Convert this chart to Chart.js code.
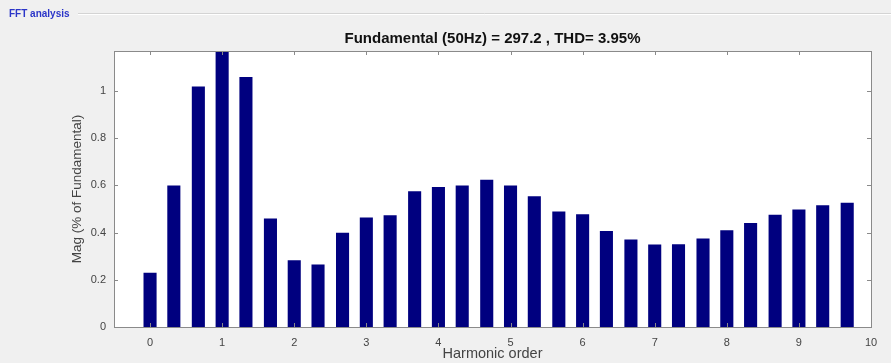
<!DOCTYPE html>
<html>
<head>
<meta charset="utf-8">
<script src="https://cdn.jsdelivr.net/npm/chart.js@4"></script>
<style>
  html, body { margin: 0; padding: 0; background: #f0f0f0; }
  #wrap { width: 891px; height: 363px; position: relative; }
</style>
</head>
<body>
<div id="wrap"><canvas id="c" width="891" height="363"></canvas></div>
<script>
// ---- data ----
const panelLabel = "FFT analysis";
const chartTitle = "Fundamental (50Hz) = 297.2 , THD= 3.95%";
const xAxisTitle = "Harmonic order";
const yAxisTitle = "Mag (% of Fundamental)";

const harmonicOrder = [0, 0.33, 0.67, 1, 1.33, 1.67, 2, 2.33, 2.67, 3,
                       3.33, 3.67, 4, 4.33, 4.67, 5, 5.33, 5.67, 6, 6.33,
                       6.67, 7, 7.33, 7.67, 8, 8.33, 8.67, 9, 9.33, 9.67];
const magnitude = [0.23, 0.60, 1.02, 1.17, 1.06, 0.46, 0.283, 0.265, 0.40, 0.464,
                   0.474, 0.575, 0.593, 0.60, 0.624, 0.60, 0.554, 0.49, 0.478, 0.407,
                   0.371, 0.35, 0.351, 0.375, 0.41, 0.441, 0.476, 0.498, 0.516, 0.527];
const xTicks = [0, 1, 2, 3, 4, 5, 6, 7, 8, 9, 10];
const yTicks = [0, 0.2, 0.4, 0.6, 0.8, 1];
const xRange = [-0.5, 10];
const yRange = [0, 1.17];

const FONT = "'Liberation Sans', Arial, sans-serif";

const framePlugin = {
  id: 'frame',
  beforeDraw(chart) {
    const ctx = chart.ctx;
    const a = chart.chartArea;
    ctx.save();
    ctx.fillStyle = '#f0f0f0';
    ctx.fillRect(0, 0, chart.width, chart.height);
    // group box line
    ctx.strokeStyle = '#d4d4d4';
    ctx.lineWidth = 1;
    ctx.beginPath();
    ctx.moveTo(78, 13.5); ctx.lineTo(chart.width, 13.5);
    ctx.stroke();
    ctx.strokeStyle = '#ffffff';
    ctx.beginPath();
    ctx.moveTo(78, 14.5); ctx.lineTo(chart.width, 14.5);
    ctx.stroke();
    // panel label
    ctx.fillStyle = '#2b35c8';
    ctx.font = "bold 10px " + FONT;
    ctx.textBaseline = 'middle';
    ctx.textAlign = 'left';
    ctx.fillText(panelLabel, 9, 14.5);
    // plot background
    ctx.fillStyle = '#ffffff';
    ctx.fillRect(a.left, a.top, a.right - a.left, a.bottom - a.top);
    ctx.restore();
  },
  afterDatasetsDraw(chart) {
    const ctx = chart.ctx;
    const a = chart.chartArea;
    const xs = chart.scales.x, ys = chart.scales.y;
    ctx.save();
    ctx.strokeStyle = '#8a8a8a';
    ctx.lineWidth = 1;
    ctx.strokeRect(Math.round(a.left) + 0.5, Math.round(a.top) + 0.5,
                   Math.round(a.right - a.left), Math.round(a.bottom - a.top));
    const L = 4;
    ctx.beginPath();
    xTicks.forEach(v => {
      const px = Math.round(xs.getPixelForValue(v)) + 0.5;
      ctx.moveTo(px, a.bottom); ctx.lineTo(px, a.bottom - L);
      ctx.moveTo(px, a.top); ctx.lineTo(px, a.top + L);
    });
    yTicks.forEach(v => {
      const py = Math.round(ys.getPixelForValue(v)) + 0.5;
      ctx.moveTo(a.left, py); ctx.lineTo(a.left + L, py);
      ctx.moveTo(a.right, py); ctx.lineTo(a.right - L, py);
    });
    ctx.stroke();
    ctx.restore();
  }
};

new Chart(document.getElementById('c'), {
  type: 'bar',
  data: {
    datasets: [{
      data: harmonicOrder.map((x, i) => ({ x: x, y: magnitude[i] })),
      backgroundColor: '#00007f',
      borderColor: '#000060',
      borderWidth: 0,
      categoryPercentage: 1,
      barPercentage: 0.55
    }]
  },
  options: {
    responsive: false,
    animation: false,
    devicePixelRatio: 1,
    layout: { padding: { left: 0, right: 20, top: 0, bottom: 0 } },
    plugins: {
      legend: { display: false },
      tooltip: { enabled: false },
      title: {
        display: true,
        fullSize: false,
        text: chartTitle,
        color: '#111111',
        font: { family: FONT, size: 15, weight: 'bold', lineHeight: 1.2 },
        padding: { top: 30, bottom: 3 }
      }
    },
    scales: {
      x: {
        type: 'linear',
        min: xRange[0], max: xRange[1],
        offset: false,
        grid: { display: false, drawTicks: false },
        border: { display: false },
        afterBuildTicks: s => { s.ticks = xTicks.map(v => ({ value: v })); },
        afterFit: s => { s.height = 36; },
        ticks: {
          padding: 9,
          color: '#444444',
          font: { family: FONT, size: 11 },
          maxRotation: 0,
          callback: v => String(v)
        },
        title: {
          display: true,
          text: xAxisTitle,
          color: '#444444',
          font: { family: FONT, size: 14.5 },
          padding: { top: 0, bottom: 0 }
        }
      },
      y: {
        min: yRange[0], max: yRange[1],
        grid: { display: false, drawTicks: false },
        border: { display: false },
        afterBuildTicks: s => { s.ticks = yTicks.map(v => ({ value: v })); },
        afterFit: s => { s.width = 114; },
        ticks: {
          padding: 8,
          color: '#444444',
          font: { family: FONT, size: 11 },
          callback: v => String(+v.toFixed(1))
        },
        title: {
          display: true,
          text: yAxisTitle,
          color: '#444444',
          font: { family: FONT, size: 13.5 },
          padding: { top: 69, bottom: 0 }
        }
      }
    }
  },
  plugins: [framePlugin]
});
</script>
</body>
</html>
